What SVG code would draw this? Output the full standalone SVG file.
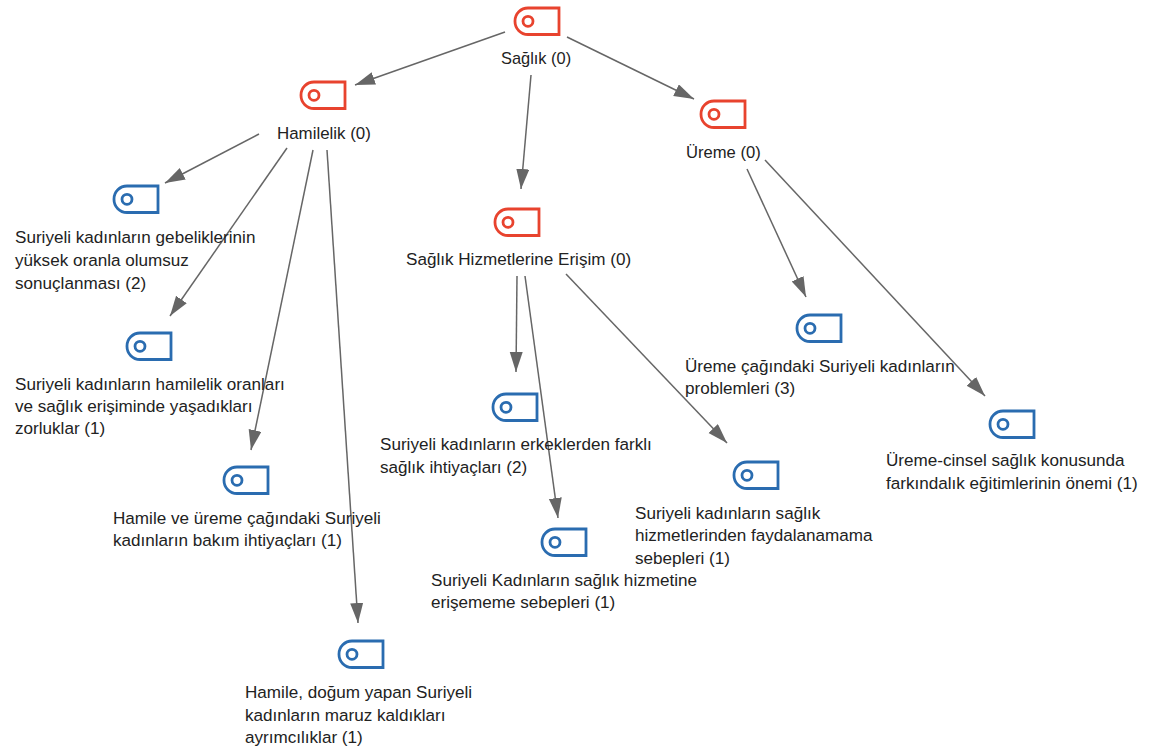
<svg xmlns="http://www.w3.org/2000/svg" width="1151" height="751" viewBox="0 0 1151 751">
<style>
text{font-family:"Liberation Sans",Arial,sans-serif;font-size:17.1px;fill:#222}
.c{stroke:#666;stroke-width:1.5;fill:none;marker-end:url(#a)}
.r{stroke:#e8432e;fill:none;stroke-width:2.8}
.b{stroke:#2a6cb0;fill:none;stroke-width:2.8}
</style>
<defs>
<marker id="a" markerUnits="userSpaceOnUse" markerWidth="22" markerHeight="15" refX="20" refY="6.500" orient="auto"><path d="M0 0L20 6.500L0 13Z" fill="#666"/></marker>
<g id="i"><path d="M14 1H45V27.500H14A13 13 0 0 1 1 14.500V14A13 13 0 0 1 14 1Z"/><circle cx="14" cy="14.300" r="5"/></g>
</defs>
<rect width="1151" height="751" fill="#fff"/>
<g id="connectors">
<path class="c" d="M505 32L355 85"/>
<path class="c" d="M531 75L521 189"/>
<path class="c" d="M567 37L694 99"/>
<path class="c" d="M259 134L165 183"/>
<path class="c" d="M287 148L170 316"/>
<path class="c" d="M313 150L251 450"/>
<path class="c" d="M327 150L358 623"/>
<path class="c" d="M517 276L516 372"/>
<path class="c" d="M525 276L558 518"/>
<path class="c" d="M566 274L727 443"/>
<path class="c" d="M747 169L806 297"/>
<path class="c" d="M765 160L985 396"/>
</g>
<g id="n1"><use class="r" href="#i" x="514" y="7"/><text x="501" y="64" style="font-size:16.4px">Sağlık (0)</text></g>
<g id="n2"><use class="r" href="#i" x="300" y="81"/><text x="277" y="139" style="font-size:16.9px">Hamilelik (0)</text></g>
<g id="n3"><use class="r" href="#i" x="700" y="100"/><text x="686" y="158" style="font-size:16.6px">Üreme (0)</text></g>
<g id="n4"><use class="r" href="#i" x="494" y="208"/><text x="406" y="265">Sağlık Hizmetlerine Erişim (0)</text></g>
<g id="n5"><use class="b" href="#i" x="113" y="185"/><text x="15" y="243">Suriyeli kadınların gebeliklerinin</text><text x="15" y="266">yüksek oranla olumsuz</text><text x="15" y="289">sonuçlanması (2)</text></g>
<g id="n6"><use class="b" href="#i" x="126" y="332"/><text x="15" y="390">Suriyeli kadınların hamilelik oranları</text><text x="15" y="412">ve sağlık erişiminde yaşadıkları</text><text x="15" y="434">zorluklar (1)</text></g>
<g id="n7"><use class="b" href="#i" x="223" y="466"/><text x="113" y="524">Hamile ve üreme çağındaki Suriyeli</text><text x="113" y="546">kadınların bakım ihtiyaçları (1)</text></g>
<g id="n8"><use class="b" href="#i" x="338" y="640"/><text x="245" y="698">Hamile, doğum yapan Suriyeli</text><text x="245" y="721">kadınların maruz kaldıkları</text><text x="245" y="743">ayrımcılıklar (1)</text></g>
<g id="n9"><use class="b" href="#i" x="492" y="393"/><text x="380" y="450">Suriyeli kadınların erkeklerden farklı</text><text x="380" y="473">sağlık ihtiyaçları (2)</text></g>
<g id="n10"><use class="b" href="#i" x="541" y="528"/><text x="431" y="586">Suriyeli Kadınların sağlık hizmetine</text><text x="431" y="608">erişememe sebepleri (1)</text></g>
<g id="n11"><use class="b" href="#i" x="733" y="461"/><text x="635" y="519">Suriyeli kadınların sağlık</text><text x="635" y="541">hizmetlerinden faydalanamama</text><text x="635" y="564">sebepleri (1)</text></g>
<g id="n12"><use class="b" href="#i" x="796" y="314"/><text x="685" y="372">Üreme çağındaki Suriyeli kadınların</text><text x="685" y="394">problemleri (3)</text></g>
<g id="n13"><use class="b" href="#i" x="989" y="410"/><text x="886" y="466">Üreme-cinsel sağlık konusunda</text><text x="886" y="489">farkındalık eğitimlerinin önemi (1)</text></g>
</svg>
